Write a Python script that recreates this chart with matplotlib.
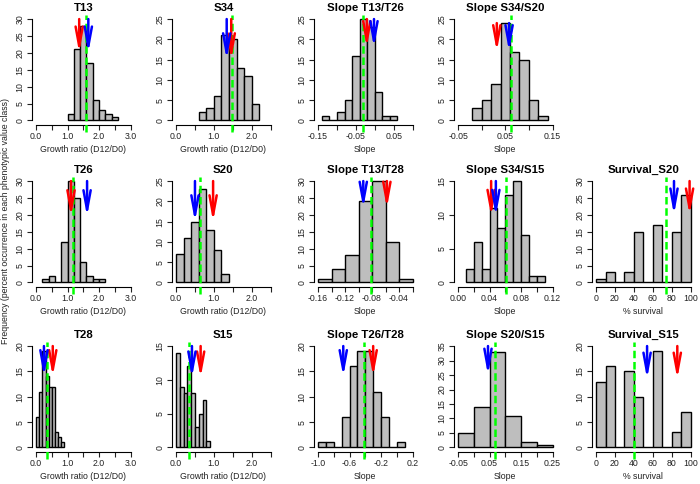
import matplotlib
matplotlib.use('Agg')
import matplotlib.pyplot as plt
import numpy as np

plt.rcParams['font.family'] = ['Liberation Sans', 'DejaVu Sans']

# --- valores (histogramas) ---
t13_counts = [2, 21, 28, 17, 6, 3, 2, 1]
s34_counts = [2, 3, 6, 21, 20, 13, 11, 4]
st13t26_counts = [1, 0, 2, 5, 16, 25, 23, 7, 1, 1]
ss34s20_counts = [3, 5, 9, 24, 17, 15, 5, 1]
t26_counts = [1, 2, 0, 12, 30, 25, 6, 2, 1, 1]
s20_counts = [7, 11, 15, 23, 13, 8, 2]
st13t28_counts = [1, 4, 8, 24, 30, 12, 1]
ss34s15_counts = [2, 6, 2, 11, 8, 13, 15, 7, 1, 1]
surv_s20_counts = [1, 3, 0, 3, 15, 0, 17, 0, 15, 26]
t28_counts = [6, 11, 19, 14, 12, 12, 3, 2, 1]
s15_counts = [14, 9, 8, 12, 8, 3, 5, 7, 1]
st26t28_counts = [1, 1, 0, 6, 16, 19, 19, 11, 6, 0, 1]
ss20s15_counts = [5, 14, 33, 11, 2, 1]
surv_s15_counts = [13, 16, 0, 15, 10, 0, 19, 0, 3, 7]

# marcadores: flecha azul, flecha roja (None = no se ve), línea verde
t13_marks = (1.66, 1.37, 1.57)
s34_marks = (1.34, 1.46, 1.49)
st13t26_marks = (-0.002, -0.021, -0.031)
ss34s20_marks = (0.058, 0.032, 0.062)
t26_marks = (1.62, 1.11, 1.17)
s20_marks = (0.50, 0.98, 0.63)
st13t28_marks = (-0.093, -0.058, -0.081)
ss34s15_marks = (0.048, 0.042, 0.061)
surv_s20_marks = (82.5, 99.0, 73.7)
t28_marks = (0.25, 0.53, 0.35)
s15_marks = (0.42, 0.65, 0.34)
st26t28_marks = (-0.68, -0.30, -0.42)
ss20s15_marks = (0.045, None, 0.066)
surv_s15_marks = (54.0, 86.0, 40.0)

GR = "Growth ratio (D12/D0)"
# (fila, col, titulo, etiqueta x, counts, inicio, ancho bin, xmin, xmax, paso tick, ticks con texto, ymax, marcas, flecha y0, y1)
panels = [
    (0, 0, "T13", GR, t13_counts, 1.0, 0.2, 0.0, 3.0, 0.5, ["0.0", "1.0", "2.0", "3.0"], 30, t13_marks, 30, 20),
    (0, 1, "S34", GR, s34_counts, 0.6, 0.2, 0.0, 2.5, 0.5, ["0.0", "1.0", "2.0"], 25, s34_marks, 25, 15),
    (0, 2, "Slope T13/T26", "Slope", st13t26_counts, -0.14, 0.02, -0.15, 0.10, 0.05, ["-0.15", "-0.05", "0.05"], 25, st13t26_marks, 25, 18),
    (0, 3, "Slope S34/S20", "Slope", ss34s20_counts, -0.02, 0.02, -0.05, 0.15, 0.05, ["-0.05", "0.05", "0.15"], 25, ss34s20_marks, 24, 17),
    (1, 0, "T26", GR, t26_counts, 0.2, 0.2, 0.0, 3.0, 0.5, ["0.0", "1.0", "2.0", "3.0"], 30, t26_marks, 30, 19.5),
    (1, 1, "S20", GR, s20_counts, 0.0, 0.2, 0.0, 2.5, 0.5, ["0.0", "1.0", "2.0"], 25, s20_marks, 25, 15),
    (1, 2, "Slope T13/T28", "Slope", st13t28_counts, -0.16, 0.02, -0.16, -0.02, 0.02, ["-0.16", "-0.12", "-0.08", "-0.04"], 30, st13t28_marks, 30, 22),
    (1, 3, "Slope S34/S15", "Slope", ss34s15_counts, 0.01, 0.01, 0.0, 0.12, 0.02, ["0.00", "0.04", "0.08", "0.12"], 15, ss34s15_marks, 15, 9.8),
    (1, 4, "Survival_S20", "% survival", surv_s20_counts, 0, 10, 0, 100, 20, ["0", "20", "40", "60", "80", "100"], 30, surv_s20_marks, 30, 20),
    (2, 0, "T28", GR, t28_counts, 0.0, 0.1, 0.0, 3.0, 0.5, ["0.0", "1.0", "2.0", "3.0"], 20, t28_marks, 20, 14),
    (2, 1, "S15", GR, s15_counts, 0.0, 0.1, 0.0, 2.5, 0.5, ["0.0", "1.0", "2.0"], 15, s15_marks, 15, 10.3),
    (2, 2, "Slope T26/T28", "Slope", st26t28_counts, -1.0, 0.1, -1.0, 0.2, 0.2, ["-1.0", "-0.6", "-0.2", "0.2"], 20, st26t28_marks, 20, 14),
    (2, 3, "Slope S20/S15", "Slope", ss20s15_counts, -0.05, 0.05, -0.05, 0.25, 0.05, ["-0.05", "0.05", "0.15", "0.25"], 35, ss20s15_marks, 35, 25),
    (2, 4, "Survival_S15", "% survival", surv_s15_counts, 0, 10, 0, 100, 20, ["0", "20", "40", "60", "80", "100"], 20, surv_s15_marks, 20, 13.5),
]

W, H = 700, 484
col_left = [32.3, 172.3, 314.3, 454.3, 592.3]
row_top = [15, 177, 342]
pw, ph = 102, 109.5

fig = plt.figure(figsize=(7, 4.84), dpi=100)

for (r, c, titulo, xlab, counts, x0, bw, xmin, xmax, paso, etiquetas, ymax, marks, ya, yb) in panels:
    ax = fig.add_axes([col_left[c] / W, 1 - (row_top[r] + ph) / H, pw / W, ph / H])
    bordes = x0 + bw * np.arange(len(counts))
    ax.bar(bordes, counts, width=bw, align='edge', color='#BEBEBE', edgecolor='black', linewidth=1.0, zorder=2)

    dx = (xmax - xmin) * 0.04
    ax.set_xlim(xmin - dx, xmax + dx)
    ax.set_ylim(-ymax * 0.04, ymax * 1.04)

    ticks = np.round(np.arange(xmin, xmax + paso / 2, paso), 6)
    ax.set_xticks(ticks)
    # R omite etiquetas que se solapan
    lab = []
    for t in ticks:
        txt = ""
        for e in etiquetas:
            if abs(float(e) - t) < 1e-9:
                txt = e
        lab.append(txt)
    ax.set_xticklabels(lab)
    ax.set_yticks(np.arange(0, ymax + 1, 5))
    ax.set_yticklabels([str(v) for v in range(0, ymax + 1, 5)], rotation=90, va='center')

    for s in ['top', 'right']:
        ax.spines[s].set_visible(False)
    ax.spines['bottom'].set_bounds(xmin, xmax)
    ax.spines['left'].set_bounds(0, ymax)
    for s in ['bottom', 'left']:
        ax.spines[s].set_linewidth(0.8)
    ax.tick_params(direction='out', length=3.5, width=0.8, labelsize=6.3, pad=2, colors='#222222')

    ax.set_title(titulo, fontsize=8.2, fontweight='bold', pad=3)
    ax.set_xlabel(xlab, fontsize=6.3, labelpad=3, color='#222222')

    azul, rojo, verde = marks
    ax.plot([verde, verde], [-ymax * 0.11, ymax * 1.04], color='#00FF00', lw=1.8,
            ls=(0, (3, 1.5)), clip_on=False, zorder=3)
    for xv, col in [(rojo, '#FF0000'), (azul, '#0000FF')]:
        if xv is None:
            continue
        ax.annotate('', xy=(xv, yb), xytext=(xv, ya),
                    arrowprops=dict(arrowstyle='->,head_length=1.4,head_width=0.26', color=col,
                                    lw=1.8, shrinkA=0, shrinkB=0, mutation_scale=10),
                    annotation_clip=False, zorder=4)

fig.text(0.008, 0.543, "Frequency (percent occurrence in each phenotypic value class)",
         rotation=90, va='center', ha='center', fontsize=6.3, color='#222222')

plt.savefig("out.png", dpi=100)
plt.close()
